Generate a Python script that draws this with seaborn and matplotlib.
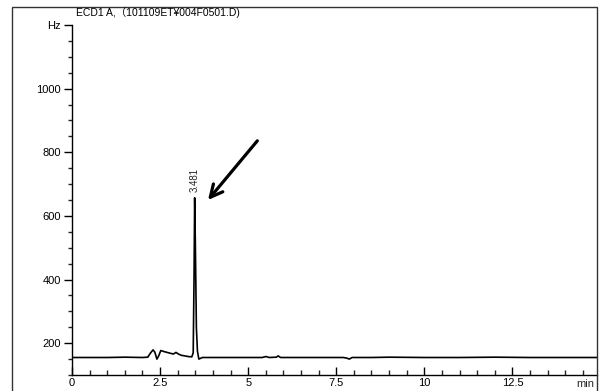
import matplotlib
matplotlib.use("Agg")
import matplotlib.pyplot as plt
from matplotlib.patches import Rectangle
from matplotlib.ticker import MultipleLocator, FixedLocator
import numpy as np
import pandas as pd
import seaborn as sns

# ECD1 A chromatogram trace (retention time in min, detector signal in Hz)
time_min = [0.00, 0.50, 1.00, 1.50, 2.00, 2.15, 2.22, 2.30, 2.35, 2.41, 2.46, 2.52,
            2.60, 2.70, 2.80, 2.88, 2.95, 3.02, 3.10, 3.20, 3.30, 3.40, 3.44,
            3.465, 3.481, 3.50, 3.53, 3.56, 3.60, 3.64, 3.70, 4.00, 4.50, 5.00,
            5.40, 5.50, 5.60, 5.80, 5.85, 5.92, 6.50, 7.00, 7.70, 7.80, 7.87,
            7.95, 8.50, 9.00, 10.0, 11.0, 12.0, 13.0, 14.0, 14.9]
signal_hz = [155, 155, 155, 156, 155, 156, 168, 179, 172, 150, 160, 177,
             174, 171, 168, 166, 171, 166, 162, 160, 158, 157, 170,
             420, 657, 520, 250, 175, 150, 152, 155, 155, 155, 155,
             155, 158, 155, 156, 160, 155, 155, 155, 155, 153, 150,
             155, 155, 156, 155, 155, 156, 155, 155, 155]

peak_rt = 3.481
peak_height = 657
x_major = [0, 2.5, 5, 7.5, 10, 12.5]
x_labels = ["0", "2.5", "5", "7.5", "10", "12.5"]
y_major = [200, 400, 600, 800, 1000, 1200]
y_labels = ["200", "400", "600", "800", "1000", "Hz"]
title = "ECD1 A,（101109ET¥004F0501.D)"

sns.set_style("white")
plt.rcParams["font.family"] = ["Liberation Sans", "DejaVu Sans"]

W, H = 603, 391
fig = plt.figure(figsize=(W / 100, H / 100), dpi=100)
ax = fig.add_axes([72 / W, (H - 375) / H, (597 - 72) / W, (375 - 25) / H])

df = pd.DataFrame({"time": time_min, "signal": signal_hz})
sns.lineplot(data=df, x="time", y="signal", ax=ax, color="black", lw=1.2,
             estimator=None, sort=True)

ax.set_xlim(0, 14.9)
ax.set_ylim(100, 1200)
ax.set_xlabel("")
ax.set_ylabel("")

for s in ["top", "right"]:
    ax.spines[s].set_visible(False)
for s in ["left", "bottom"]:
    ax.spines[s].set_color("black")
    ax.spines[s].set_linewidth(1.0)

ax.xaxis.set_major_locator(FixedLocator(x_major))
ax.set_xticklabels(x_labels)
ax.xaxis.set_minor_locator(MultipleLocator(0.5))
ax.yaxis.set_major_locator(FixedLocator(y_major))
ax.set_yticklabels(y_labels)
ax.yaxis.set_minor_locator(MultipleLocator(50))

ax.tick_params(axis="x", which="major", direction="in", length=6, width=1,
               labelsize=8, pad=2, bottom=True, colors="black")
ax.tick_params(axis="x", which="minor", direction="in", length=3.5, width=1,
               bottom=True)
ax.tick_params(axis="y", which="major", direction="out", length=6, width=1,
               labelsize=8, pad=2, left=True, colors="black")
ax.tick_params(axis="y", which="minor", direction="out", length=3, width=1,
               left=True)

# axis unit at the end of the time axis
ax.text(0.995, -0.012, "min", transform=ax.transAxes, ha="right", va="top",
        fontsize=8)

# retention time label above the peak
ax.text(peak_rt, peak_height + 18, f"{peak_rt:.3f}", rotation=90,
        ha="center", va="bottom", fontsize=7)

# arrow pointing at the peak
ax.annotate("", xy=(3.86, 650), xytext=(5.26, 836),
            arrowprops=dict(arrowstyle="->", lw=2.3, color="black",
                            mutation_scale=22, shrinkA=0, shrinkB=0))

# outer frame and header
fig.patches.append(Rectangle((12 / W, -0.05), (597 - 12) / W, 1.05 - 7 / H,
                             transform=fig.transFigure, fill=False,
                             edgecolor="#333333", lw=1.0))
fig.text(158 / W, 1 - 13 / H, title, ha="center", va="center", fontsize=7.5,
         color="black", family=["Liberation Sans", "Noto Sans CJK JP", "DejaVu Sans"])

fig.savefig("out.png", dpi=100)
